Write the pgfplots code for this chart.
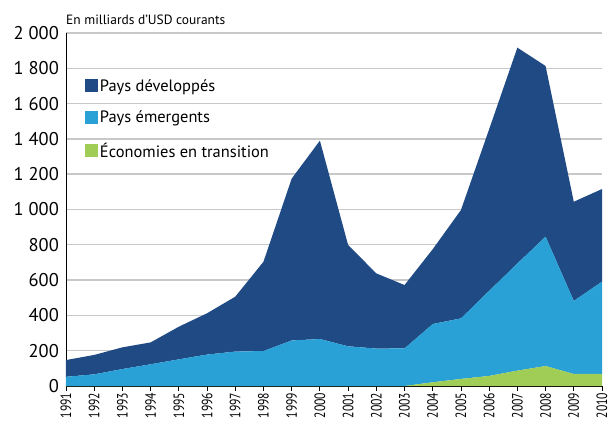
\documentclass[border=0pt]{standalone}
\usepackage{pgfplots}
\pgfplotsset{compat=1.18}
\usepackage{fontspec}
\setmainfont{PT Sans}
\definecolor{dev}{HTML}{1F4A84}
\definecolor{emer}{HTML}{29A0D6}
\definecolor{trans}{HTML}{A0CD55}
\definecolor{gridc}{HTML}{C8C8C8}
\begin{document}
\begin{tikzpicture}
\useasboundingbox (-66bp,-42bp) rectangle (543bp,386bp);
\begin{axis}[
  scale only axis,
  width=536bp, height=353bp,
  xmin=1991, xmax=2010,
  ymin=0, ymax=2000,
  stack plots=y,
  axis x line*=bottom,
  axis y line*=left,
  axis line style={black, line width=0.8bp},
  xtick={1991,...,2010},
  xticklabels={1991,1992,1993,1994,1995,1996,1997,1998,1999,2000,2001,2002,2003,2004,2005,2006,2007,2008,2009,2010},
  xticklabel style={rotate=90, anchor=east, font=\fontsize{15}{15}\selectfont, xscale=0.78, inner sep=2bp},
  x tick style={black, line width=0.8bp},
  tick align=outside,
  major tick length=5bp,
  ytick={0,200,...,2000},
  yticklabels={0,200,400,600,800,1~000,1~200,1~400,1~600,1~800,2~000},
  yticklabel style={font=\fontsize{18.5}{18.5}\selectfont, inner sep=2bp},
  y tick style={draw=none},
  ymajorgrids,
  grid style={gridc, line width=1.4bp},
  legend style={draw=none, fill=none, at={(0.035,0.875)}, anchor=north west,
    font=\fontsize{16.5}{16.5}\selectfont, row sep=14.5bp, inner sep=0pt},
  legend cell align=left,
  reverse legend,
  legend image code/.code={\fill[#1] (0bp,-6bp) rectangle (13bp,7bp);},
  clip=false,
]
\addplot[fill=trans, draw=none] coordinates {
(1991,0)(1992,0)(1993,0)(1994,0)(1995,0)(1996,0)(1997,0)(1998,0)(1999,0)(2000,0)
(2001,0)(2002,0)(2003,0)(2004,21)(2005,40)(2006,57)(2007,87)(2008,113)(2009,68)(2010,68)} \closedcycle;
\addlegendentry{Économies en transition}
\addplot[fill=emer, draw=none] coordinates {
(1991,52)(1992,66)(1993,96)(1994,123)(1995,151)(1996,178)(1997,195)(1998,198)(1999,258)(2000,266)
(2001,225)(2002,212)(2003,213)(2004,330)(2005,343)(2006,482)(2007,607)(2008,733)(2009,414)(2010,523)} \closedcycle;
\addlegendentry{Pays émergents}
\addplot[fill=dev, draw=none] coordinates {
(1991,95)(1992,110)(1993,123)(1994,124)(1995,185)(1996,234)(1997,311)(1998,506)(1999,917)(2000,1124)
(2001,574)(2002,426)(2003,359)(2004,424)(2005,614)(2006,916)(2007,1223)(2008,967)(2009,562)(2010,525)} \closedcycle;
\addlegendentry{Pays développés}
\node[anchor=south west, font=\fontsize{13.5}{13.5}\selectfont, inner sep=0pt] at (axis cs:1991,2000) [yshift=8bp] {En milliards d’USD courants};
\end{axis}
\end{tikzpicture}
\end{document}
